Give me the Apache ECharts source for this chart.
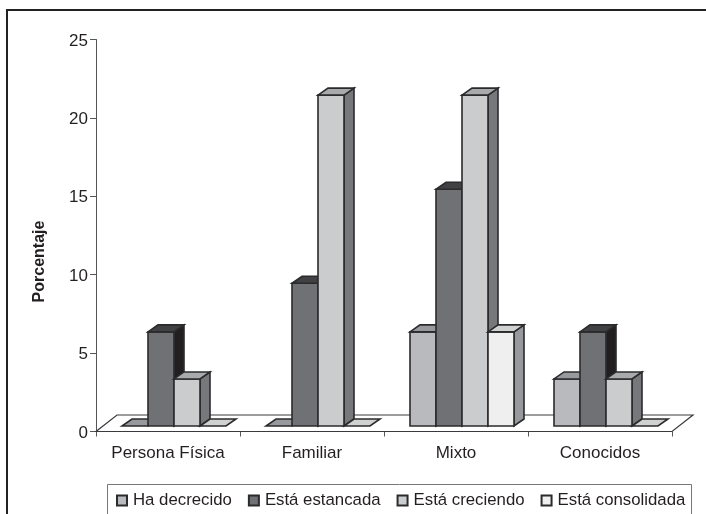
<!DOCTYPE html>
<html>
<head>
<meta charset="utf-8">
<style>html,body{margin:0;padding:0;background:#fff}#chart{width:706px;height:514px}</style>
<script src="https://cdn.jsdelivr.net/npm/echarts@6/dist/echarts.min.js"></script>
</head>
<body>
<div id="chart"></div>
<script>
// Tipo de empresa y evolución del negocio, en porcentaje
const categories = ['Persona Física', 'Familiar', 'Mixto', 'Conocidos'];
const haDecrecido = [0, 0, 6, 3];
const estaEstancada = [6, 9.1, 15.1, 6];
const estaCreciendo = [3, 21.1, 21.1, 3];
const estaConsolidada = [0, 0, 6, 0];
const yTicks = { min: 0, max: 25, interval: 5 };

const OUTLINE = '#2b2b2d';
const TEXT = '#231f20';
const FONT = '"Liberation Sans", Arial, sans-serif';

// Perspectiva fija de la vista pseudo-3D
const BAR_W = 26, DEPTH_X = 10, DEPTH_Y = 7;
const SHIFT_X = 6, SHIFT_Y = 5.5;
const FLOOR_X = 21, FLOOR_Y = 16.5;

const palettes = [
  { front: '#b9babd', top: '#98999c', side: '#7b7c7f' },
  { front: '#707174', top: '#414143', side: '#211f20' },
  { front: '#cbcccd', top: '#a9aaac', side: '#77787b' },
  { front: '#efefef', top: '#d0d1d1', side: '#98999c' }
];

function poly(points, fill) {
  return {
    type: 'polygon',
    shape: { points },
    style: { fill, stroke: OUTLINE, lineWidth: 1.6, lineJoin: 'miter' }
  };
}

// Prisma de una barra: cara frontal, superior y lateral
function barRenderer(seriesIndex, count) {
  const pal = palettes[seriesIndex];
  return function (params, api) {
    const cat = api.value(0);
    const top = api.coord([cat, api.value(1)]);
    const base = api.coord([cat, 0]);
    const x0 = top[0] + SHIFT_X + (seriesIndex - count / 2) * BAR_W;
    const x1 = x0 + BAR_W;
    const yT = top[1] - SHIFT_Y;
    const yB = base[1] - SHIFT_Y;
    const children = [];
    if (yB - yT > 0.5) {
      children.push(poly([[x1, yT], [x1 + DEPTH_X, yT - DEPTH_Y], [x1 + DEPTH_X, yB - DEPTH_Y], [x1, yB]], pal.side));
      children.push(poly([[x0, yT], [x1, yT], [x1, yB], [x0, yB]], pal.front));
    }
    children.push(poly([[x0, yT], [x1, yT], [x1 + DEPTH_X, yT - DEPTH_Y], [x0 + DEPTH_X, yT - DEPTH_Y]], pal.top));
    return { type: 'group', children };
  };
}

// Suelo del gráfico, anclado a los extremos del eje de categorías
function floorRenderer(params, api) {
  const half = api.size([1, 0])[0] / 2;
  const left = api.coord([0, 0])[0] - half;
  const right = api.coord([categories.length - 1, 0])[0] + half;
  const y = api.coord([0, 0])[1];
  return {
    type: 'polygon',
    shape: { points: [[left, y], [right, y], [right + FLOOR_X, y - FLOOR_Y], [left + FLOOR_X, y - FLOOR_Y]] },
    style: { fill: '#ffffff', stroke: '#3a3a3c', lineWidth: 1.2 }
  };
}

const names = ['Ha decrecido', 'Está estancada', 'Está creciendo', 'Está consolidada'];
const values = [haDecrecido, estaEstancada, estaCreciendo, estaConsolidada];

const barSeries = names.map((name, i) => ({
  name,
  type: 'custom',
  coordinateSystem: 'cartesian2d',
  clip: false,
  z: 3 + i,
  silent: true,
  itemStyle: { color: palettes[i].front, borderColor: OUTLINE, borderWidth: 1.4 },
  encode: { x: 0, y: 1 },
  renderItem: barRenderer(i, names.length),
  data: values[i].map((v, c) => [c, v])
}));

const chart = echarts.init(document.getElementById('chart'), null, { renderer: 'canvas' });
chart.setOption({
  animation: false,
  backgroundColor: '#ffffff',
  grid: { left: 96, top: 39.5, width: 576, height: 392, containLabel: false },
  xAxis: {
    type: 'category',
    data: categories,
    axisLine: { show: false },
    axisTick: { show: true, interval: 0, alignWithLabel: false, length: 5, lineStyle: { color: '#55565a', width: 1 } },
    axisLabel: { color: TEXT, fontFamily: FONT, fontSize: 17, margin: 13, interval: 0, hideOverlap: false },
    splitLine: { show: false }
  },
  yAxis: {
    type: 'value',
    min: yTicks.min,
    max: yTicks.max,
    interval: yTicks.interval,
    name: 'Porcentaje',
    nameLocation: 'middle',
    nameGap: 48,
    nameTextStyle: { color: TEXT, fontFamily: FONT, fontSize: 16, fontWeight: 'bold', padding: [0, 52, 0, 0] },
    axisLine: { show: true, lineStyle: { color: '#55565a', width: 1 } },
    axisTick: { show: true, length: 6, lineStyle: { color: '#55565a', width: 1 } },
    axisLabel: { color: TEXT, fontFamily: FONT, fontSize: 17, margin: 8, verticalAlign: 'top', lineHeight: 3 },
    splitLine: { show: false }
  },
  legend: {
    left: 116,
    top: 492,
    padding: 0,
    itemWidth: 10,
    itemHeight: 10,
    itemGap: 16,
    icon: 'rect',
    selectedMode: false,
    data: names,
    textStyle: { color: TEXT, fontFamily: FONT, fontSize: 16.8, padding: [1, 0, 0, 1] }
  },
  graphic: [
    {
      // Marco exterior, recortado a la derecha y abajo
      type: 'polyline',
      silent: true,
      shape: { points: [[7, 514], [7, 10], [706, 10]] },
      style: { fill: null, stroke: '#222222', lineWidth: 2 }
    },
    {
      // Caja de la leyenda
      type: 'polyline',
      silent: true,
      shape: { points: [[107.5, 514], [107.5, 484.5], [691.5, 484.5], [691.5, 514]] },
      style: { fill: null, stroke: '#77787b', lineWidth: 1 }
    }
  ],
  series: [
    {
      type: 'custom',
      coordinateSystem: 'cartesian2d',
      clip: false,
      z: 1,
      silent: true,
      encode: { x: 0, y: 1 },
      renderItem: floorRenderer,
      data: [[0, 0]]
    },
    ...barSeries
  ]
});
</script>
</body>
</html>
